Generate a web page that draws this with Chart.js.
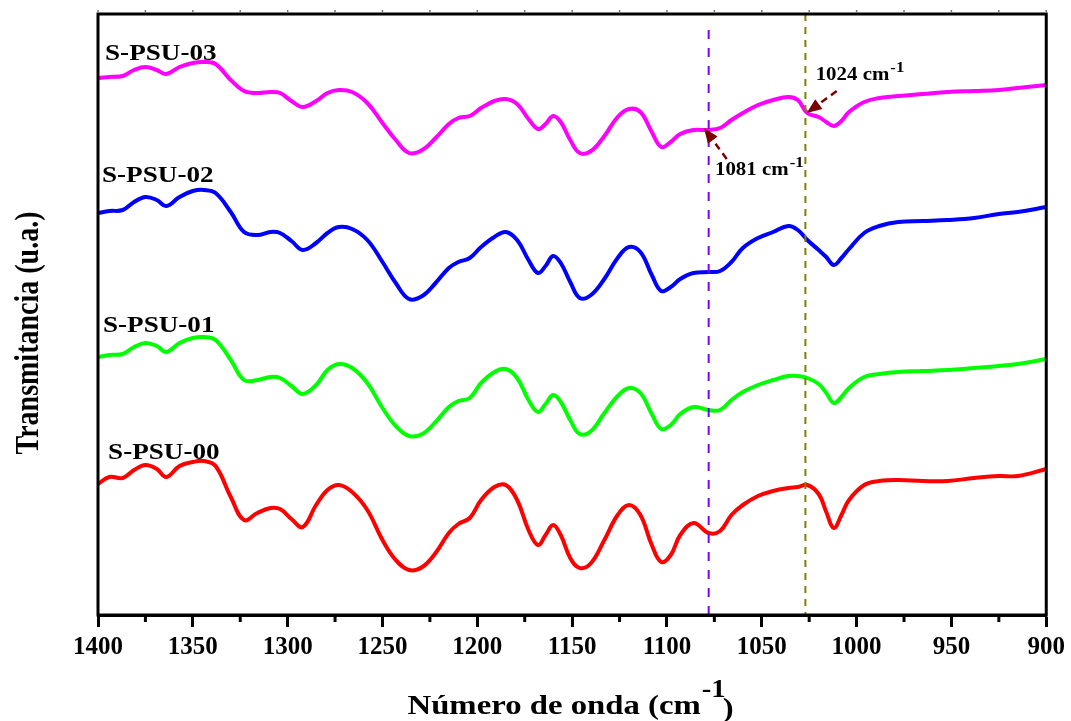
<!DOCTYPE html>
<html>
<head>
<meta charset="utf-8">
<script src="https://cdn.jsdelivr.net/npm/chart.js@4.4.1/dist/chart.umd.min.js"></script>
<style>
  html, body { margin: 0; padding: 0; background: #fff; }
  #c { display: block; }
</style>
</head>
<body>
<canvas id="c" width="1071" height="721"></canvas>
<script>
// wavenumber grid (cm-1) shared by the four spectra
var wavenumber = [1400, 1394, 1387, 1381, 1375, 1369, 1364, 1357, 1350, 1344,
                  1338, 1330, 1323, 1316, 1309, 1304, 1298, 1292, 1285, 1279,
                  1273, 1266, 1258, 1250, 1243, 1236, 1229, 1222, 1215, 1210,
                  1204, 1198, 1191, 1185, 1179, 1173, 1168, 1164, 1160, 1156,
                  1151, 1146, 1140, 1133, 1126, 1120, 1114, 1108, 1103, 1098,
                  1093, 1086, 1078, 1072, 1066, 1060, 1052, 1044, 1036, 1031,
                  1026, 1020, 1016, 1012, 1008, 1004, 996, 988, 978, 965,
                  952, 938, 925, 915, 900];

// transmittance, arbitrary units (curves offset)
var psu00 = [13.1, 13.8, 13.7, 14.5, 15.0, 14.6, 13.8, 14.9, 15.3, 15.4,
             14.9, 11.8, 9.5, 10.2, 10.7, 10.6, 9.6, 8.8, 11.0, 12.5,
             13.0, 12.3, 10.5, 7.5, 5.5, 4.5, 4.8, 6.2, 8.2, 9.1,
             9.7, 11.5, 12.8, 13.0, 11.5, 8.5, 7.0, 8.0, 9.0, 8.0,
             5.7, 4.7, 5.2, 7.5, 10.0, 11.0, 10.0, 7.0, 5.3, 6.0,
             8.0, 9.2, 8.2, 8.4, 10.0, 11.0, 11.9, 12.4, 12.7, 12.8,
             13.0, 12.1, 10.3, 8.7, 10.0, 11.5, 13.0, 13.4, 13.5, 13.4,
             13.4, 13.7, 13.9, 13.9, 14.6];
var psu01 = [25.8, 26.0, 26.1, 26.8, 27.2, 26.9, 26.3, 27.2, 27.7, 27.8,
             27.5, 25.5, 23.5, 23.5, 23.8, 23.7, 22.9, 22.1, 23.0, 24.5,
             25.1, 24.7, 23.2, 20.7, 18.9, 17.9, 18.1, 19.3, 20.8, 21.4,
             21.7, 23.2, 24.3, 24.6, 23.7, 21.5, 20.3, 21.1, 22.0, 21.3,
             19.5, 18.1, 18.4, 20.2, 21.9, 22.7, 22.2, 20.1, 18.6, 19.0,
             20.1, 20.8, 20.5, 20.5, 21.5, 22.3, 23.0, 23.5, 23.9, 23.9,
             23.7, 23.1, 22.2, 21.2, 21.8, 22.7, 23.8, 24.1, 24.3, 24.4,
             24.5, 24.7, 24.9, 25.1, 25.6];
var psu02 = [40.2, 40.4, 40.5, 41.3, 41.8, 41.5, 40.9, 41.8, 42.4, 42.5,
             42.2, 40.3, 38.3, 38.0, 38.3, 38.2, 37.4, 36.5, 37.2, 38.2,
             38.8, 38.6, 37.5, 35.3, 33.2, 31.6, 31.9, 33.2, 34.7, 35.3,
             35.7, 36.8, 37.8, 38.3, 37.5, 35.5, 34.2, 34.9, 35.9, 35.2,
             33.3, 31.7, 32.0, 33.6, 35.7, 36.8, 36.3, 34.0, 32.4, 32.8,
             33.6, 34.2, 34.3, 34.4, 35.3, 36.7, 37.7, 38.3, 38.9, 38.5,
             37.5, 36.5, 35.8, 35.0, 35.7, 36.6, 38.2, 38.9, 39.3, 39.4,
             39.5, 39.7, 40.1, 40.3, 40.8];
var psu03 = [53.7, 53.8, 53.9, 54.5, 54.8, 54.5, 54.1, 54.8, 55.2, 55.3,
             55.1, 53.5, 52.4, 52.2, 52.3, 52.2, 51.4, 50.8, 51.4, 52.2,
             52.5, 52.3, 51.2, 49.2, 47.5, 46.2, 46.5, 47.7, 49.1, 49.7,
             49.9, 50.7, 51.4, 51.6, 51.1, 49.6, 48.6, 49.1, 49.9, 49.3,
             47.5, 46.2, 46.4, 47.9, 49.8, 50.6, 50.3, 48.3, 46.8, 47.3,
             48.1, 48.5, 48.5, 48.7, 49.5, 50.2, 51.0, 51.5, 51.8, 51.5,
             50.2, 49.8, 49.3, 48.9, 49.4, 50.3, 51.3, 51.7, 51.9, 52.1,
             52.3, 52.4, 52.5, 52.7, 53.0];

var seriesNames  = ["S-PSU-00", "S-PSU-01", "S-PSU-02", "S-PSU-03"];
var seriesColors = ["#ff0000", "#00ff00", "#0000ff", "#ff00ff"];
var xTicks = [1400, 1350, 1300, 1250, 1200, 1150, 1100, 1050, 1000, 950, 900];

// reference wavenumbers marked with dashed lines
var markerLines  = [1078, 1027];
var markerColors = ["#8000ff", "#808000"];
var peakLabels   = ["1081", "1024"];

var SERIF = "'Liberation Serif', 'Times New Roman', serif";

// label anchors in data units: [wavenumber, transmittance]
var nameAnchors = [[1394.7, 15.6], [1397.4, 28.3], [1397.9, 43.3], [1396.3, 55.5]];
var peakNotes = [
  { tip: [1080.5, 48.7], tail: [1068.5, 45.6], text: [1074.7, 44.0] },
  { tip: [1026.3, 50.2], tail: [1010.5, 52.4], text: [1021.6, 53.5] }
];

function makeSet(i, values) {
  return {
    label: seriesNames[i],
    data: wavenumber.map(function(w, k) { return { x: w, y: values[k] }; }),
    borderColor: seriesColors[i],
    borderWidth: 4,
    pointRadius: 0,
    fill: false,
    tension: 0.4
  };
}

function stretchText(ctx, text, x, y, size, sx) {
  ctx.save();
  ctx.font = "bold " + size + "px " + SERIF;
  ctx.translate(x, y);
  ctx.scale(sx, 1);
  ctx.fillText(text, 0, 0);
  var w = ctx.measureText(text).width * sx;
  ctx.restore();
  return w;
}

// base text followed by a raised "-1"
function supText(ctx, base, x, y, size, sx) {
  var w = stretchText(ctx, base, x, y, size, sx);
  stretchText(ctx, "-1", x + w + 1, y - size * 0.42, size * 0.8, sx);
}

var decorations = {
  id: "decorations",
  afterDatasetsDraw: function(chart) {
    var ctx = chart.ctx, a = chart.chartArea,
        xs = chart.scales.x, ys = chart.scales.y;

    // dashed marker lines
    markerLines.forEach(function(w, i) {
      var px = xs.getPixelForValue(w);
      ctx.save();
      ctx.strokeStyle = markerColors[i];
      ctx.lineWidth = 2;
      ctx.setLineDash(i === 0 ? [9, 9] : [7, 6]);
      ctx.beginPath();
      ctx.moveTo(px, i === 0 ? a.top + 16 : a.top);
      ctx.lineTo(px, a.bottom);
      ctx.stroke();
      ctx.restore();
    });

    // frame
    ctx.save();
    ctx.strokeStyle = "#000";
    ctx.lineWidth = 3;
    ctx.strokeRect(a.left, a.top, a.right - a.left, a.bottom - a.top);

    // minor ticks bottom, small ticks on top
    for (var w = 900; w <= 1400; w += 25) {
      var px = xs.getPixelForValue(w);
      if (w % 50 !== 0) {
        ctx.beginPath();
        ctx.moveTo(px, a.bottom);
        ctx.lineTo(px, a.bottom + 7);
        ctx.stroke();
      }
      ctx.save();
      ctx.lineWidth = 1.5;
      ctx.strokeStyle = "#777";
      ctx.beginPath();
      ctx.moveTo(px, a.top - 1);
      ctx.lineTo(px, a.top - 4);
      ctx.stroke();
      ctx.restore();
    }
    ctx.restore();

    // series names
    ctx.save();
    ctx.fillStyle = "#000";
    ctx.textBaseline = "alphabetic";
    nameAnchors.forEach(function(p, i) {
      stretchText(ctx, seriesNames[i], xs.getPixelForValue(p[0]), ys.getPixelForValue(p[1]), 23, 1.18);
    });

    // peak arrows and labels
    peakNotes.forEach(function(n, i) {
      var tx = xs.getPixelForValue(n.tip[0]),  ty = ys.getPixelForValue(n.tip[1]),
          sx = xs.getPixelForValue(n.tail[0]), sy = ys.getPixelForValue(n.tail[1]),
          dx = tx - sx, dy = ty - sy, len = Math.sqrt(dx * dx + dy * dy),
          ux = dx / len, uy = dy / len,
          bx = tx - ux * 15, by = ty - uy * 15;
      ctx.save();
      ctx.strokeStyle = "#7a0000";
      ctx.fillStyle = "#7a0000";
      ctx.lineWidth = 2.5;
      ctx.setLineDash([7, 5]);
      ctx.beginPath();
      ctx.moveTo(sx, sy);
      ctx.lineTo(bx, by);
      ctx.stroke();
      ctx.setLineDash([]);
      ctx.beginPath();
      ctx.moveTo(tx, ty);
      ctx.lineTo(bx - uy * 6, by + ux * 6);
      ctx.lineTo(bx + uy * 6, by - ux * 6);
      ctx.closePath();
      ctx.fill();
      ctx.restore();

      supText(ctx, peakLabels[i] + " cm", xs.getPixelForValue(n.text[0]), ys.getPixelForValue(n.text[1]), 19, 1.1);
    });

    // x axis title
    var title = "Número de onda (cm";
    ctx.font = "bold 28px " + SERIF;
    var tw = ctx.measureText(title).width * 1.17;
    var total = tw + 38;
    var x0 = (a.left + a.right) / 2 + 1 - total / 2;
    var w1 = stretchText(ctx, title, x0, 714, 28, 1.17);
    stretchText(ctx, "-1", x0 + w1 + 1, 697, 25, 1.15);
    stretchText(ctx, ")", x0 + w1 + 22, 717, 28, 1.17);

    // y axis title (glyphs widened across the baseline)
    ctx.save();
    ctx.translate(38, 333);
    ctx.rotate(-Math.PI / 2);
    ctx.scale(1, 1.2);
    ctx.font = "bold 28px " + SERIF;
    ctx.textAlign = "center";
    ctx.fillText("Transmitancia (u.a.)", 0, 0);
    ctx.restore();
    ctx.restore();
  }
};

new Chart(document.getElementById("c"), {
  type: "line",
  data: {
    datasets: [makeSet(0, psu00), makeSet(1, psu01), makeSet(2, psu02), makeSet(3, psu03)]
  },
  options: {
    responsive: false,
    animation: false,
    devicePixelRatio: 1,
    layout: { padding: { left: 98, right: 23, top: 14, bottom: 0 } },
    plugins: { legend: { display: false }, tooltip: { enabled: false } },
    scales: {
      x: {
        type: "linear",
        reverse: true,
        min: 900,
        max: 1400,
        afterBuildTicks: function(scale) {
          scale.ticks = xTicks.map(function(v) { return { value: v }; });
        },
        afterFit: function(scale) { scale.height = 106; },
        ticks: {
          color: "#000",
          padding: 6,
          maxRotation: 0,
          font: { family: SERIF, size: 25, weight: "bold" },
          callback: function(v) { return String(v); }
        },
        grid: { drawOnChartArea: false, tickLength: 12, tickWidth: 3, tickColor: "#000" },
        border: { color: "#000", width: 3 }
      },
      y: { display: false, min: 0, max: 60.1 }
    }
  },
  plugins: [decorations]
});
</script>
</body>
</html>
